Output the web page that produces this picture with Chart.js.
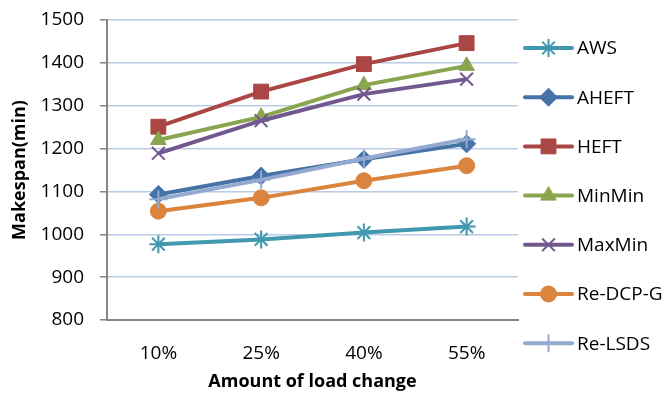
<!DOCTYPE html>
<html>
<head>
<meta charset="utf-8">
<script src="https://cdn.jsdelivr.net/npm/chart.js@4"></script>
<style>
  html, body { margin: 0; padding: 0; background: #fff; }
  #wrap { width: 668px; height: 393px; }
</style>
</head>
<body>
<div id="wrap"><canvas id="makespanChart" width="668" height="393"></canvas></div>
<script>
// load change levels and makespan (min) per algorithm
const loadChange = ['10%', '25%', '40%', '55%'];
const yTicks = [800, 900, 1000, 1100, 1200, 1300, 1400, 1500];

const aws     = [977, 988, 1004, 1018];
const aheft   = [1093, 1136, 1175, 1211];
const heft    = [1251, 1333, 1397, 1446];
const minMin  = [1220, 1274, 1348, 1393];
const maxMin  = [1189, 1265, 1327, 1362];
const reDcpG  = [1054, 1085, 1125, 1160];
const reLsds  = [1082, 1127, 1177, 1222];

const names   = ['AWS', 'AHEFT', 'HEFT', 'MinMin', 'MaxMin', 'Re-DCP-G', 'Re-LSDS'];
const colors  = ['#4198AF', '#4572A7', '#AA4643', '#89A54E', '#71588F', '#DB843D', '#93A9CF'];
const markers = ['star', 'rectRot', 'rect', 'triangle', 'crossRot', 'circle', 'cross'];
const sizes   = [9, 9, 10.5, 9, 9, 8, 9];
const series  = [aws, aheft, heft, minMin, maxMin, reDcpG, reLsds];

const FONT = 'Open Sans';

const datasets = series.map((data, i) => ({
  label: names[i],
  data: data,
  borderColor: colors[i],
  backgroundColor: colors[i],
  borderWidth: 4,
  pointStyle: markers[i],
  pointRadius: sizes[i],
  pointBorderWidth: (markers[i] === 'star' || markers[i] === 'cross' || markers[i] === 'crossRot') ? 2 : 1,
  pointBorderColor: colors[i],
  pointBackgroundColor: colors[i],
  tension: 0,
  order: series.length - i   // later series sit on top
}));

// legend on the right: line sample with the marker, then the name
const sideLegend = {
  id: 'sideLegend',
  afterDraw(chart) {
    const ctx = chart.ctx;
    ctx.save();
    chart.data.datasets.forEach((ds, i) => {
      const y = 48 + i * 49.2;
      ctx.strokeStyle = ds.borderColor;
      ctx.lineWidth = 4;
      ctx.lineCap = 'round';
      ctx.beginPath();
      ctx.moveTo(525, y);
      ctx.lineTo(572, y);
      ctx.stroke();
      ctx.lineCap = 'butt';
      ctx.fillStyle = ds.backgroundColor;
      ctx.lineWidth = ds.pointBorderWidth;
      Chart.helpers.drawPoint(ctx, {
        pointStyle: ds.pointStyle,
        radius: ds.pointRadius,
        rotation: 0,
        borderWidth: ds.pointBorderWidth
      }, 548.5, y);
      ctx.fillStyle = '#000';
      ctx.font = '19px "' + FONT + '"';
      ctx.textBaseline = 'middle';
      ctx.textAlign = 'left';
      ctx.fillText(ds.label, 577, y + 1);
    });
    ctx.restore();
  }
};

new Chart(document.getElementById('makespanChart'), {
  type: 'line',
  data: { labels: loadChange, datasets: datasets },
  plugins: [sideLegend],
  options: {
    responsive: false,
    animation: false,
    layout: { padding: { left: 0, top: 20, right: 150, bottom: 0 } },
    plugins: { legend: { display: false }, tooltip: { enabled: false } },
    scales: {
      x: {
        offset: true,
        grid: { display: false, drawTicks: false },
        border: { display: true, color: '#868686', width: 2 },
        ticks: { color: '#000', font: { family: FONT, size: 19 }, padding: 22 },
        title: {
          display: true,
          text: 'Amount of load change',
          color: '#000',
          font: { family: FONT, size: 18, weight: 'bold' },
          padding: { top: 0, bottom: 0 }
        },
        afterFit(scale) { scale.height = 73; }
      },
      y: {
        min: 800,
        max: 1500,
        afterBuildTicks(scale) { scale.ticks = yTicks.map(v => ({ value: v })); },
        grid: { color: '#B9CBE6', lineWidth: 1.5, tickLength: 7, tickColor: '#868686', tickWidth: 1.5 },
        border: { display: true, color: '#868686', width: 2 },
        ticks: {
          color: '#000',
          font: { family: FONT, size: 19 },
          padding: 16,
          callback: v => String(v)
        },
        title: {
          display: true,
          text: 'Makespan(min)',
          color: '#000',
          font: { family: FONT, size: 18, weight: 'bold' },
          padding: { top: 9, bottom: 0 }
        },
        afterFit(scale) {
          scale.width = 107;
          scale.paddingTop = 0;
          scale.paddingBottom = 0;
        }
      }
    }
  }
});
</script>
</body>
</html>
